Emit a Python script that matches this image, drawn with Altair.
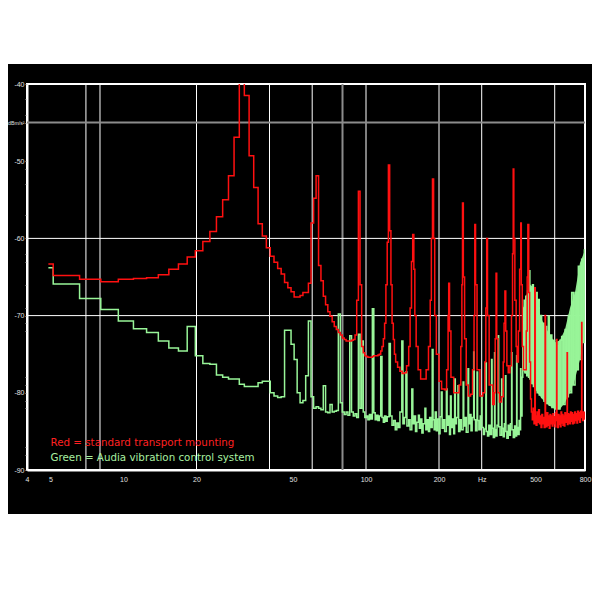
import altair as alt
import pandas as pd

# ---------------- data ----------------
# red trace: (frequency Hz, level dB) - FFT bins drawn as steps
red_pts = [
    (4.90, -63.3), (5.13, -64.8), (6.59, -65.3), (8.06, -65.6), (9.52, -65.3), (10.99, -65.2),
    (12.45, -65.1), (13.92, -64.7), (15.38, -64.0), (16.85, -63.3), (18.31, -62.4), (19.78, -61.6),
    (21.24, -60.4), (22.71, -59.1), (24.17, -57.2), (25.64, -55.0), (27.10, -51.9), (28.57, -46.9),
    (30.03, -36.0), (31.50, -41.5), (32.96, -49.3), (34.43, -53.4), (35.89, -58.1), (37.36, -59.7),
    (38.82, -61.2), (40.29, -62.3), (41.75, -63.1), (43.22, -63.9), (44.68, -64.6), (46.15, -65.7),
    (47.61, -66.4), (49.08, -66.9), (50.54, -67.6), (52.01, -67.6), (53.47, -67.4), (54.94, -67.0),
    (56.40, -67.0), (57.87, -65.8), (59.33, -58.0), (60.80, -54.8), (62.26, -51.9), (63.73, -63.5),
    (65.19, -65.5), (66.66, -67.5), (68.12, -68.6), (69.59, -69.5), (71.05, -70.1), (72.52, -70.8),
    (73.98, -71.4), (75.45, -71.8), (76.91, -72.2), (78.38, -72.5), (79.84, -72.9), (81.31, -73.1),
    (82.77, -73.3), (84.24, -73.3), (85.70, -73.3), (87.17, -73.2), (88.63, -73.1), (90.10, -72.5),
    (91.56, -68.0), (93.03, -53.9), (94.49, -66.0), (95.96, -74.0), (97.42, -74.8), (98.89, -75.2),
    (100.4, -75.3), (101.8, -75.4), (103.3, -75.4), (104.7, -75.4), (106.2, -75.3), (107.7, -75.2),
    (109.1, -75.2), (110.6, -75.2), (112.0, -75.1), (113.5, -75.0), (115.0, -74.6), (116.4, -74.0),
    (117.9, -73.0), (119.3, -71.0), (120.8, -66.0), (122.3, -60.5), (123.7, -50.5), (125.2, -59.0),
    (126.7, -66.0), (128.1, -71.0), (129.6, -73.1), (131.0, -75.0), (132.5, -76.0), (135, -76.7),
    (138, -77.2), (141, -77.5), (144, -77.4), (147, -76.5), (150, -74.0), (152, -69.0), (154, -63.0),
    (155.8, -59.5), (157.5, -64.0), (159, -70.0), (161, -74.0), (164, -77.0), (168, -78.2),
    (173, -78.2), (177, -77.0), (181, -74.0), (184, -68.0), (186, -60.0), (188, -52.3), (190, -60.0),
    (192, -70.0), (195, -75.0), (200, -78.5), (205, -79.5), (211, -79.6), (215, -77.0), (218, -70.0),
    (219.3, -65.8), (221, -72.0), (224, -78.0), (230, -80.0), (236, -80.0), (242, -79.0),
    (246, -74.0), (248.5, -66.0), (250, -55.4), (252, -65.0), (255, -73.0), (259, -79.0),
    (264, -80.4), (270, -80.2), (275, -77.0), (279, -70.0), (281, -58.2), (283, -66.0), (287, -77.0),
    (295, -80.4), (303, -80.0), (309, -76.0), (312, -69.0), (314.6, -60.0), (317, -70.0),
    (322, -79.0), (333, -81.5), (338, -80.0), (341, -73.0), (343.8, -64.5), (346, -73.0),
    (350, -80.0), (355, -81.2), (362, -80.5), (368, -76.0), (371, -71.0), (374, -66.8), (377, -72.0),
    (381, -76.5), (386, -77.4), (392, -76.5), (398, -70.0), (402, -62.0), (404.6, -51.0),
    (407, -60.0), (411, -68.0), (416, -74.0), (420, -76.0), (425, -72.0), (430, -64.0), (434.7, -58.0),
    (437, -66.0), (441, -74.0), (446, -77.0), (452, -77.0), (458, -72.0), (462, -65.0), (465, -58.2),
    (469, -67.0), (473, -76.0), (477, -80.8), (481, -82.5), (485, -83.5), (489, -82.0), (493, -84.0),
    (496.5, -66.4), (499, -83.0), (503, -84.2), (507, -82.5), (511, -83.8), (515, -82.2),
    (519, -84.0), (523, -83.0), (527, -84.5), (531, -82.8), (535, -84.0), (539, -83.2), (543, -84.5),
    (547.5, -70.0), (550, -83.0), (554, -84.4), (558, -82.6), (562, -84.2), (566, -83.0),
    (570, -84.6), (574, -82.8), (578, -84.0), (582, -83.0), (586, -84.3), (590, -82.7), (594, -84.0),
    (598, -83.1), (602, -84.4), (606, -82.6), (611, -73.1), (613, -83.6), (617, -84.5), (621, -82.8),
    (625, -84.1), (629, -83.0), (633, -84.4), (637, -82.5), (641, -83.9), (645, -82.8), (649, -84.2),
    (653, -83.0), (657, -84.3), (661, -82.6), (665, -83.8), (669, -82.9), (675, -74.8), (677, -84.1),
    (681, -82.7), (685, -83.9), (689, -82.8), (693, -84.0), (697, -82.5), (701, -83.7), (706, -82.6),
    (711, -84.0), (716, -82.8), (721, -83.9), (726, -82.5), (731, -83.6), (736, -82.7), (741, -83.9),
    (746, -82.4), (751, -83.5), (756, -82.6), (761, -83.8), (766, -82.4), (771, -83.2), (775, -70.9),
    (777, -82.8), (782, -83.6), (787, -82.5), (792, -83.4), (797, -82.6), (800, -83.0),
]

# green trace: (frequency Hz, level dB)
green_pts = [
    (4.90, -63.8), (5.13, -65.9), (6.59, -67.8), (8.06, -69.2), (9.52, -70.7), (10.99, -71.7),
    (12.45, -72.2), (13.92, -73.3), (15.38, -74.2), (16.85, -74.6), (18.31, -71.4), (19.78, -75.2),
    (21.24, -76.2), (22.71, -76.3), (24.17, -77.7), (25.64, -78.0), (27.10, -78.2), (28.57, -78.2),
    (30.03, -78.9), (31.50, -79.2), (32.96, -79.2), (34.43, -79.2), (35.89, -78.7), (37.36, -78.5),
    (38.82, -78.5), (40.29, -80.0), (41.75, -80.4), (43.22, -80.6), (44.68, -80.5), (46.15, -71.9),
    (47.61, -71.9), (49.08, -73.7), (50.54, -75.7), (52.01, -80.0), (53.47, -81.3), (54.94, -81.0),
    (56.40, -77.8), (57.87, -70.7), (59.33, -80.5), (60.80, -82.0), (62.26, -81.8), (63.73, -82.0),
    (65.19, -82.2), (66.66, -79.1), (68.12, -82.5), (69.59, -82.6), (71.05, -81.5), (72.52, -82.5),
    (73.98, -82.4), (75.45, -82.3), (76.91, -69.8), (78.38, -81.3), (79.84, -82.5), (81.31, -82.8),
    (82.77, -82.5), (84.24, -82.9), (85.70, -72.6), (87.17, -82.5), (88.63, -83.0), (90.10, -82.7),
    (91.56, -83.2), (93.03, -72.4), (94.49, -82.0), (95.96, -73.3), (97.42, -82.5), (98.89, -83.2),
    (100.4, -83.0), (101.8, -83.5), (103.3, -82.8), (104.7, -83.4), (106.2, -69.1), (107.7, -82.6),
    (109.1, -83.5), (110.6, -82.9), (112.0, -83.6), (113.5, -83.0), (115.0, -75.3), (116.4, -83.2),
    (117.9, -83.8), (119.3, -83.0), (120.8, -83.7), (122.3, -83.1), (124.5, -73.6), (126.0, -83.0),
    (128, -84.2), (130, -83.6), (132, -84.8), (134, -83.9), (136, -84.5), (138, -82.5),
    (140.5, -73.3), (142, -84.0), (144, -83.2), (146, -77.3), (147.5, -84.3), (150, -83.5),
    (152, -84.8), (154.5, -79.5), (156, -84.0), (158, -83.0), (160, -85.0), (162, -83.8),
    (164.5, -82.9), (166, -84.6), (168, -83.4), (170, -85.2), (172, -84.0), (175, -82.0),
    (176.5, -84.8), (179, -83.5), (181, -85.0), (183, -83.2), (185, -84.5), (187.5, -74.4),
    (189, -83.5), (191, -84.8), (193, -82.5), (195, -84.9), (197, -83.4), (200, -85.3), (202, -83.1),
    (204.5, -79.9), (206, -84.6), (208, -83.5), (211, -85.0), (214.5, -79.5), (216, -84.2),
    (219, -83.0), (221, -85.4), (223, -80.4), (224.5, -84.5), (227, -83.4), (230, -85.3),
    (232, -78.2), (233.5, -84.0), (236, -83.2), (239.5, -79.1), (241, -85.0), (244, -83.5),
    (247, -84.8), (251.5, -78.6), (253, -84.3), (256, -83.2), (259, -85.1), (263.5, -76.9),
    (265, -84.0), (268, -82.8), (271, -84.9), (274, -83.2), (278, -74.7), (279.5, -83.5),
    (283, -84.9), (287, -77.3), (288.5, -83.6), (292, -84.8), (296, -83.0), (299.5, -80.4),
    (301, -84.5), (305, -85.4), (308, -84.7), (312, -76.1), (313.5, -85.0), (317, -85.6),
    (321, -84.2), (325, -85.4), (329.5, -75.7), (331, -84.6), (335, -85.8), (339, -74.8),
    (340.5, -84.8), (343, -85.6), (347, -84.2), (351, -72.6), (352.5, -84.4), (357, -85.5),
    (362.5, -78.2), (364, -84.6), (368, -85.7), (372, -84.0), (376, -77.8), (377.5, -85.0),
    (381, -85.9), (386, -84.2), (390, -85.5), (394, -84.0), (398.5, -74.8), (400, -84.8),
    (405, -85.8), (410, -84.3), (414, -85.6), (418, -75.2), (419.5, -84.5), (424, -85.4),
    (428, -83.6), (431, -84.8), (434, -76.9), (435.5, -83.0), (440, -78.0), (443, -69.0),
    (446, -77.0), (449, -68.0), (452, -77.4), (456, -67.5), (460, -77.8), (464, -66.8),
    (468, -78.0), (471.5, -64.2), (474, -78.2), (478, -66.5), (482, -78.8), (486, -66.0),
    (490, -79.2), (494, -66.4), (498, -79.5), (503, -67.0), (508, -80.0), (513, -67.9),
    (518, -80.3), (524, -70.0), (530, -80.6), (536, -71.0), (542, -81.1), (548, -71.4),
    (555, -81.4), (564.5, -70.1), (570, -81.6), (577, -72.5), (584, -81.9), (592, -73.2),
    (600, -82.1), (611, -73.9), (620, -82.1), (631, -73.2), (641, -72.7), (651, -81.5),
    (662, -71.8), (672, -80.5), (683, -70.0), (693, -80.0), (705, -67.0), (716, -79.0),
    (728, -67.0), (740, -77.0), (751, -63.6), (763, -75.7), (775, -62.7), (787, -73.5),
    (795, -61.5), (800, -61.5),
]

# dense (filled-looking) part of the green trace: lower / upper extent
band_f = [440, 452.6, 474.6, 497.5, 521.8, 547, 573.7, 600, 631, 661.7, 693.6, 727.6, 762.6, 800]
band_lo = [-77.0, -77.4, -78.2, -79.5, -80.4, -81.25, -81.7, -82.1, -82.1, -81.25, -80.0, -78.2,
           -75.7, -71.8]
band_hi = [-70.0, -67.9, -66.0, -66.4, -70.0, -71.4, -72.5, -73.5, -73.2, -71.8, -69.0, -67.0,
           -63.2, -61.5]

# grid lines
vgrid_white = [7, 8, 20, 40, 60, 100, 200, 300, 600]
vgrid_gray = [80]
hgrid_white = [-60, -70]
hgrid_gray = [-45]

x_label_vals = [4, 5, 10, 20, 50, 100, 200, 300, 500, 800]
y_tick_vals = [-40, -42, -44, -45, -50, -51, -53, -57, -60, -62, -63, -66, -69, -70, -71, -72,
               -78, -79, -80, -81, -82, -87, -88, -90]

legend_text = ["Red = standard transport mounting", "Green = Audia vibration control system"]
legend_color = ["#ff2020", "#a8f0a0"]
legend_f = [5.0, 5.0]
legend_db = [-86.55, -88.5]

# ---------------- chart ----------------
RED = "#ff1010"
GREEN = "#98f598"
xs = alt.Scale(type="log", domain=[4, 800], nice=False)
ys = alt.Scale(domain=[-90, -40], nice=False, zero=False)

x_axis = alt.Axis(values=x_label_vals, title=None, grid=False, ticks=False, domain=True,
                  domainColor="white", domainWidth=2, labelColor="#e0e0e0", labelFontSize=7,
                  labelFont="Liberation Sans", labelPadding=5, labelFlush=False, labelOverlap=False,
                  labelExpr="datum.value == 300 ? 'Hz' : '' + datum.value")
y_axis = alt.Axis(values=y_tick_vals, title=None, grid=False, ticks=True, tickSize=2,
                  tickColor="#b0b0b0", domain=True, domainColor="white", domainWidth=2,
                  labelColor="#e0e0e0",
                  labelFontSize={"condition": {"test": "datum.value == -45", "value": 5.2}, "value": 7},
                  labelFont="Liberation Sans",
                  labelPadding=1, labelFlush=False, labelOverlap=False,
                  labelExpr="datum.value == -45 ? 'dBm/s²' : (datum.value % 10 == 0 ? '-' + abs(datum.value) : '')")


def X(field):
    return alt.X(field, scale=xs, axis=x_axis, title=None)


def Y(field):
    return alt.Y(field, scale=ys, axis=y_axis, title=None)


red_df = pd.DataFrame(red_pts, columns=["f", "db"])
green_df = pd.DataFrame(green_pts, columns=["f", "db"])
band_df = pd.DataFrame({"f": band_f, "lo": band_lo, "hi": band_hi})

top_white = alt.Chart(pd.DataFrame({"a": [0]})).mark_rect(color="white").encode(
    x=alt.value(-19), x2=alt.value(565), y=alt.value(-76), y2=alt.value(-20))

vw = alt.Chart(pd.DataFrame({"f": vgrid_white})).mark_rule(color="white", strokeWidth=1).encode(
    x=X("f:Q"))
vg = alt.Chart(pd.DataFrame({"f": vgrid_gray})).mark_rule(color="#8c8c8c", strokeWidth=2).encode(
    x=X("f:Q"))
hw = alt.Chart(pd.DataFrame({"db": hgrid_white})).mark_rule(color="white", strokeWidth=1).encode(
    y=Y("db:Q"))
hg = alt.Chart(pd.DataFrame({"db": hgrid_gray})).mark_rule(color="#8c8c8c", strokeWidth=2).encode(
    y=Y("db:Q"))

band = alt.Chart(band_df).mark_area(color=GREEN, opacity=0.95, clip=True).encode(
    x=X("f:Q"), y=Y("lo:Q"), y2="hi:Q")

green = alt.Chart(green_df).mark_line(color=GREEN, strokeWidth=1.5, interpolate="step-after",
                                      clip=True).encode(x=X("f:Q"), y=Y("db:Q"))

red = alt.Chart(red_df).mark_line(color=RED, strokeWidth=1.5, interpolate="step-after",
                                  clip=True).encode(x=X("f:Q"), y=Y("db:Q"))

leg = alt.Chart(pd.DataFrame({"t": legend_text, "c": legend_color, "f": legend_f, "db": legend_db})).mark_text(
    align="left", baseline="middle", font="DejaVu Sans", fontSize=10.3).encode(
    x=X("f:Q"), y=Y("db:Q"),
    text="t:N", color=alt.Color("c:N", scale=None))

chart = alt.layer(top_white, vw, vg, hw, hg, band, green, red, leg).properties(
    width=558, height=386,
    autosize=alt.AutoSizeParams(type="none"),
    padding={"left": 19, "top": 76, "right": 7, "bottom": 44},
    background="black",
).configure_view(stroke="white", strokeWidth=2, fill="black")

chart.save("out.html", embed_options={"renderer": "svg", "actions": False})
